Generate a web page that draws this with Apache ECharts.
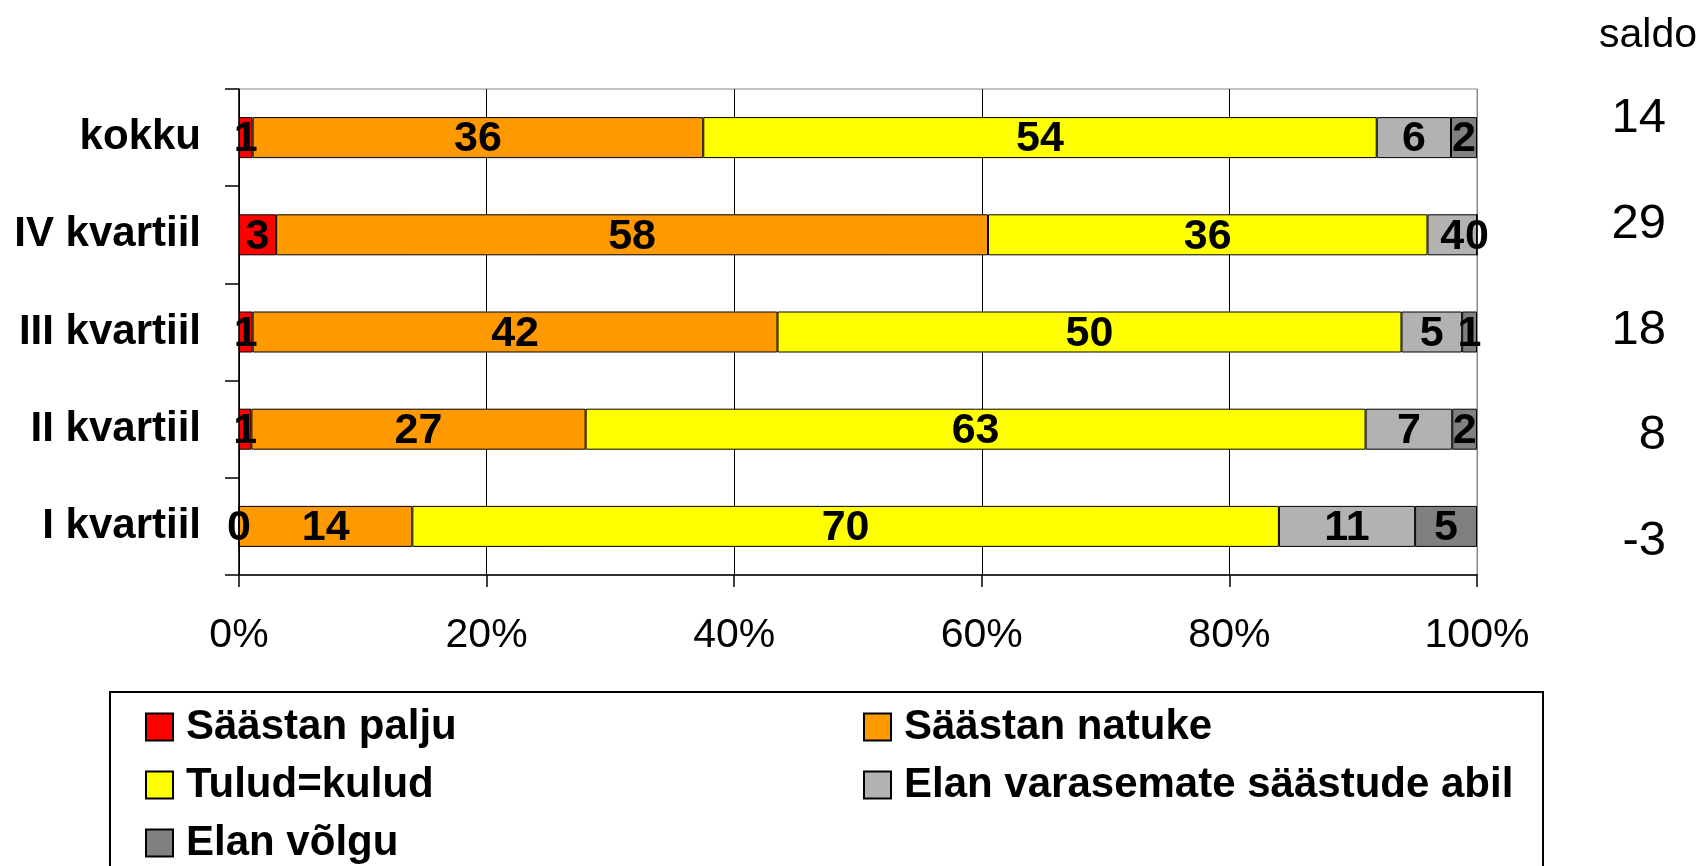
<!DOCTYPE html>
<html>
<head>
<meta charset="utf-8">
<script src="https://cdn.jsdelivr.net/npm/echarts@6/dist/echarts.min.js"></script>
<style>
  html, body { margin: 0; padding: 0; background: #fff; }
  #chart { width: 1698px; height: 866px; }
</style>
</head>
<body>
<div id="chart"></div>
<script>
// categories, top to bottom
var categories = ['kokku', 'IV kvartiil', 'III kvartiil', 'II kvartiil', 'I kvartiil']
var saldo = [14, 29, 18, 8, -3]

// shares in % (labels are rounded)
var saastanPalju = [1.1, 3.0, 1.1, 1.0, 0]
var saastanNatuke = [36.4, 57.5, 42.4, 27.0, 14.0]
var tuludKulud = [54.4, 35.5, 50.4, 63.0, 70.0]
var varasemad = [6.0, 4.0, 4.9, 7.0, 11.0]
var volgu = [2.1, 0, 1.2, 2.0, 5.0]

var xTicks = [0, 20, 40, 60, 80, 100]

var seriesNames = ['Säästan palju', 'Säästan natuke', 'Tulud=kulud', 'Elan varasemate säästude abil', 'Elan võlgu']
var seriesData = [saastanPalju, saastanNatuke, tuludKulud, varasemad, volgu]
var colors = ['#FF0000', '#FF9900', '#FFFF00', '#B2B2B2', '#808080']

var FONT = "'Liberation Sans', Arial, sans-serif"

var chart = echarts.init(document.getElementById('chart'))

var series = seriesNames.map(function (name, i) {
  return {
    name: name,
    type: 'bar',
    stack: 'total',
    barWidth: 41,
    xAxisIndex: 0,
    yAxisIndex: 0,
    data: seriesData[i],
    itemStyle: {
      color: colors[i],
      borderColor: '#000',
      borderWidth: 1
    },
    label: {
      show: true,
      position: 'inside',
      color: '#000',
      fontFamily: FONT,
      fontWeight: 'bold',
      fontSize: 43,
      offset: [0, 2],
      formatter: function (p) {
        return Math.round(p.value)
      }
    }
  }
})

// legend: two columns, one legend per entry
var legendSlots = [
  { name: 'Säästan palju', left: 145, top: 705 },
  { name: 'Säästan natuke', left: 863, top: 705 },
  { name: 'Tulud=kulud', left: 145, top: 763 },
  { name: 'Elan varasemate säästude abil', left: 863, top: 763 },
  { name: 'Elan võlgu', left: 145, top: 821 }
]
var legends = legendSlots.map(function (s) {
  return {
    left: s.left,
    top: s.top,
    padding: 0,
    itemWidth: 27,
    itemHeight: 27,
    icon: 'rect',
    data: [s.name],
    textStyle: {
      fontFamily: FONT,
      fontWeight: 'bold',
      fontSize: 42,
      lineHeight: 44,
      color: '#000',
      padding: [0, 0, 0, 8]
    }
  }
})

chart.setOption({
  animation: false,
  title: {
    text: 'saldo',
    left: 1594,
    top: 10,
    textStyle: {
      fontFamily: FONT,
      fontWeight: 'normal',
      fontSize: 41,
      color: '#000'
    }
  },
  legend: legends,
  graphic: [{
    type: 'rect',
    shape: { x: 110, y: 692, width: 1433, height: 220 },
    style: { fill: 'none', stroke: '#000', lineWidth: 2 },
    silent: true
  }],
  grid: [{
    left: 239,
    right: 221,
    top: 89,
    height: 486,
    show: true,
    borderColor: '#888',
    borderWidth: 1
  }, {
    left: 239,
    right: 221,
    top: 66,
    height: 528
  }],
  xAxis: [{
    type: 'value',
    gridIndex: 0,
    min: xTicks[0],
    max: xTicks[xTicks.length - 1],
    interval: 20,
    axisLine: { show: true, lineStyle: { color: '#000', width: 1.5 } },
    axisTick: { show: true, length: 12, lineStyle: { color: '#000', width: 1.5 } },
    splitLine: {
      show: true,
      lineStyle: { color: ['#000', '#000', '#000', '#000', '#000', '#888'], width: 1 }
    },
    axisLabel: {
      margin: 40,
      fontFamily: FONT,
      fontSize: 41,
      color: '#000',
      formatter: '{value}%'
    }
  }, {
    type: 'value',
    gridIndex: 1,
    show: false
  }],
  yAxis: [{
    type: 'category',
    gridIndex: 0,
    inverse: true,
    data: categories,
    axisLine: { show: true, lineStyle: { color: '#000', width: 1.5 } },
    axisTick: { show: true, length: 14, lineStyle: { color: '#000', width: 1.5 } },
    splitLine: { show: false },
    axisLabel: {
      margin: 38,
      fontFamily: FONT,
      fontWeight: 'bold',
      fontSize: 42,
      color: '#000'
    }
  }, {
    type: 'category',
    gridIndex: 1,
    position: 'right',
    inverse: true,
    data: saldo.map(String),
    axisLine: { show: false },
    axisTick: { show: false },
    splitLine: { show: false },
    axisLabel: {
      margin: 189,
      align: 'right',
      fontFamily: FONT,
      fontSize: 49,
      color: '#000'
    }
  }],
  series: series
})
</script>
</body>
</html>
